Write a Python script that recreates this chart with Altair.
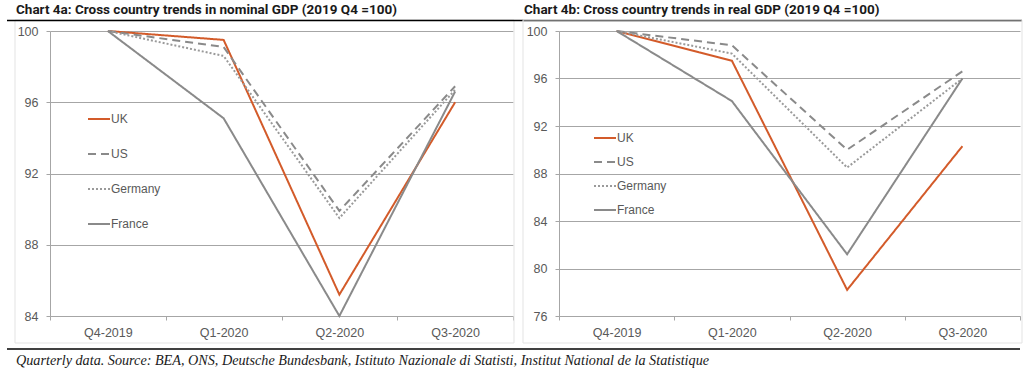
import altair as alt
import pandas as pd

quarters = ["Q4-2019", "Q1-2020", "Q2-2020", "Q3-2020"]
countries = ["UK", "US", "Germany", "France"]

nominal = {
    "UK": [100, 99.5, 85.2, 96.0],
    "US": [100, 99.1, 89.9, 96.9],
    "Germany": [100, 98.6, 89.5, 96.7],
    "France": [100, 95.1, 84.0, 96.6],
}
real = {
    "UK": [100, 97.5, 78.2, 90.3],
    "US": [100, 98.8, 90.0, 96.6],
    "Germany": [100, 98.1, 88.5, 96.0],
    "France": [100, 94.1, 81.2, 96.0],
}

title_a = "Chart 4a: Cross country trends in nominal GDP (2019 Q4 =100)"
title_b = "Chart 4b: Cross country trends in real GDP (2019 Q4 =100)"
footer = ("Quarterly data. Source: BEA, ONS, Deutsche Bundesbank, "
          "Istituto Nazionale di Statisti, Institut National de la Statistique")

colors = ["#D35B2A", "#8A8A8A", "#9A9A9A", "#8A8A8A"]
dashes = [[1, 0], [8, 5], [2, 2], [1, 0]]

GRID = "#A6A6A6"
LABEL = "#595959"
FONT = "Liberation Sans"


def frame(d):
    rows = []
    for c in countries:
        for q, v in zip(quarters, d[c]):
            rows.append({"quarter": q, "country": c, "value": v})
    return pd.DataFrame(rows)


def one(**kw):
    return alt.Chart(pd.DataFrame([kw]))


def legend(lx, ly, rp):
    return alt.Legend(title=None, orient="none", legendX=lx, legendY=ly,
                      symbolType="stroke", symbolSize=484, symbolStrokeWidth=2,
                      labelFont=FONT, labelFontSize=12, labelColor=LABEL,
                      labelOffset=0, rowPadding=rp, padding=0)


def panel(d, title, ymin, w, legend_x, legend_y, row_pad, box_x, box_x2, extra):
    df = frame(d)
    ticks = list(range(ymin, 101, 4))
    lines = alt.Chart(df).mark_line(strokeWidth=2, clip=False).encode(
        x=alt.X("quarter:N", sort=quarters, bandPosition=0.5,
                scale=alt.Scale(type="band", paddingInner=0, paddingOuter=0),
                axis=alt.Axis(title=None, tickBand="extent", labelAngle=0,
                              domainColor=GRID, tickColor=GRID, tickSize=4,
                              labelColor=LABEL, labelFont=FONT, labelFontSize=12.5,
                              labelPadding=6, grid=False)),
        y=alt.Y("value:Q",
                scale=alt.Scale(domain=[ymin, 100], nice=False, zero=False),
                axis=alt.Axis(title=None, values=ticks, grid=True, gridColor=GRID,
                              domainColor=GRID, tickColor=GRID, tickSize=4,
                              labelColor=LABEL, labelFont=FONT, labelFontSize=12.5,
                              labelPadding=8)),
        color=alt.Color("country:N", sort=countries,
                        scale=alt.Scale(domain=countries, range=colors),
                        legend=legend(legend_x, legend_y, row_pad)),
        strokeDash=alt.StrokeDash("country:N", sort=countries,
                                  scale=alt.Scale(domain=countries, range=dashes),
                                  legend=legend(legend_x, legend_y, row_pad)),
    )
    box = one(a=1).mark_rect(filled=False, stroke="#E3E3E3", strokeWidth=1).encode(
        x=alt.value(box_x), x2=alt.value(box_x2), y=alt.value(-11), y2=alt.value(312))
    ttl = one(t=title).mark_text(align="left", baseline="alphabetic", font="Roboto",
                                 fontWeight="bold", fontSize=13.5, color="#1A1A1A").encode(
        text="t:N", x=alt.value(box_x + 1), y=alt.value(-17))
    layers = [box, lines, ttl] + extra
    return alt.layer(*layers).properties(width=w, height=285)


# invisible canvas extent: fixes the page origin so the plot starts at (50, 31)
canvas = one(a=1).mark_rect(opacity=0).encode(
    x=alt.value(-50), x2=alt.value(976), y=alt.value(-31), y2=alt.value(346))
top_rule = one(a=1).mark_rule(color="#000000", strokeWidth=1.3).encode(
    x=alt.value(-43), x2=alt.value(972), y=alt.value(-10.5))
bottom_rule = one(a=1).mark_rule(color="#000000", strokeWidth=1.3).encode(
    x=alt.value(-43), x2=alt.value(970), y=alt.value(318))
foot = one(t=footer).mark_text(align="left", baseline="alphabetic", font="Liberation Serif",
                               fontStyle="italic", fontSize=14.2, color="#1A1A1A").encode(
    text="t:N", x=alt.value(-34), y=alt.value(334))

left = panel(nominal, title_a, 84, 463, 37, 76, 17, -35, 464,
             [canvas, top_rule, bottom_rule, foot])
right = panel(real, title_b, 76, 461, 34, 95, 6, -36, 463, [])

chart = alt.hconcat(left, right, spacing=46, bounds="flush").resolve_scale(
    color="independent", strokeDash="independent", x="independent", y="independent"
).resolve_legend(color="independent", strokeDash="independent").properties(
    padding=0,
    background="white",
).configure_view(stroke=None)

chart.save("out.html", embed_options={"renderer": "svg", "actions": False})
